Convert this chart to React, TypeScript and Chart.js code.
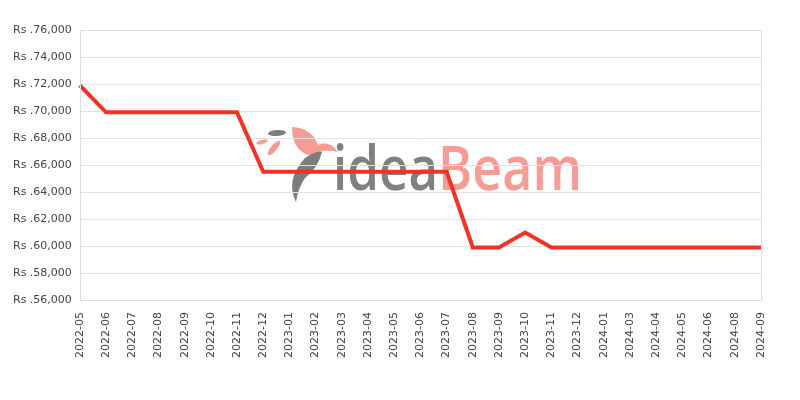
import React, { useEffect, useRef } from "react";
import { Chart, registerables } from "chart.js";

Chart.register(...registerables);

const labels = [
  "2022-05", "2022-06", "2022-07", "2022-08", "2022-09", "2022-10", "2022-11", "2022-12",
  "2023-01", "2023-02", "2023-03", "2023-04", "2023-05", "2023-06", "2023-07", "2023-08",
  "2023-09", "2023-10", "2023-11", "2023-12", "2024-01", "2024-03", "2024-04", "2024-05",
  "2024-06", "2024-08", "2024-09",
];

const prices = [
  71900, 69900, 69900, 69900, 69900, 69900, 69900, 65499,
  65499, 65499, 65499, 65499, 65499, 65499, 65499, 59900,
  59900, 61000, 59900, 59900, 59900, 59900, 59900, 59900,
  59900, 59900, 59900,
];

const yMin = 56000;
const yMax = 76000;
const yStep = 2000;

const bgPlugin = {
  id: "bgAndWatermark",
  beforeDraw(chart: any) {
    const ctx = chart.ctx as CanvasRenderingContext2D;
    ctx.save();
    ctx.fillStyle = "#ffffff";
    ctx.fillRect(0, 0, chart.width, chart.height);

    // watermark bird (approximation)
    ctx.fillStyle = "#f59d94";
    ctx.beginPath();
    ctx.moveTo(292, 127);
    ctx.quadraticCurveTo(312, 128, 318, 145);
    ctx.quadraticCurveTo(330, 140, 338, 152);
    ctx.quadraticCurveTo(322, 148, 312, 156);
    ctx.quadraticCurveTo(292, 152, 292, 127);
    ctx.fill();
    ctx.beginPath();
    ctx.ellipse(274, 148, 3, 9, 0.7, 0, Math.PI * 2);
    ctx.fill();
    ctx.beginPath();
    ctx.ellipse(262, 142, 2, 6, 1.3, 0, Math.PI * 2);
    ctx.fill();

    ctx.fillStyle = "#7d7d7d";
    ctx.beginPath();
    ctx.ellipse(277, 133, 3, 9, 1.5, 0, Math.PI * 2);
    ctx.fill();
    ctx.beginPath();
    ctx.moveTo(296, 202);
    ctx.quadraticCurveTo(285, 180, 305, 158);
    ctx.quadraticCurveTo(318, 150, 322, 152);
    ctx.quadraticCurveTo(318, 168, 305, 178);
    ctx.quadraticCurveTo(298, 188, 296, 202);
    ctx.fill();

    // watermark text
    ctx.textBaseline = "alphabetic";
    ctx.font = "600 62px 'Open Sans'";
    const drawFit = (txt: string, x0: number, x1: number, color: string) => {
      const w = ctx.measureText(txt).width;
      ctx.save();
      ctx.translate(x0, 190);
      ctx.scale((x1 - x0) / w, 1);
      ctx.fillStyle = color;
      ctx.fillText(txt, 0, 0);
      ctx.restore();
    };
    drawFit("idea", 333, 438, "#808080");
    drawFit("Beam", 438, 582, "#f59d94");
    ctx.restore();
  },
  afterDraw(chart: any) {
    const { ctx, chartArea } = chart;
    ctx.save();
    ctx.strokeStyle = "#dddddd";
    ctx.lineWidth = 1;
    ctx.strokeRect(
      Math.round(chartArea.left) + 0.5,
      Math.round(chartArea.top) + 0.5,
      Math.round(chartArea.right - chartArea.left),
      Math.round(chartArea.bottom - chartArea.top)
    );
    ctx.restore();
  },
};

export default function App() {
  const ref = useRef<HTMLCanvasElement | null>(null);
  useEffect(() => {
    if (!ref.current) return;
    const chart = new Chart(ref.current, {
      type: "line",
      data: {
        labels,
        datasets: [
          {
            data: prices,
            borderColor: "#ee3424",
            backgroundColor: "#ee3424",
            borderWidth: 4,
            pointRadius: 0,
            tension: 0,
            fill: false,
          },
        ],
      },
      options: {
        responsive: false,
        animation: false,
        layout: { padding: { top: 30, right: 39, bottom: 38, left: 5 } },
        plugins: {
          legend: { display: false },
          tooltip: { enabled: false },
        },
        scales: {
          x: {
            offset: false,
            grid: { display: false },
            border: { display: false },
            ticks: {
              autoSkip: false,
              maxRotation: 90,
              minRotation: 90,
              color: "#444444",
              font: { family: "'DejaVu Sans'", size: 11 },
              padding: 4,
            },
          },
          y: {
            min: yMin,
            max: yMax,
            grid: { color: "#e2e2e2", drawTicks: false },
            border: { display: false },
            ticks: {
              stepSize: yStep,
              color: "#444444",
              padding: 8,
              font: { family: "'DejaVu Sans'", size: 11 },
              callback: (v: any) => "Rs ." + Number(v).toLocaleString("en-US"),
            },
          },
        },
      },
      plugins: [bgPlugin],
    });
    return () => chart.destroy();
  }, []);
  return (
    <div style={{ position: "fixed", left: 0, top: 0, width: 800, height: 400 }}>
      <canvas ref={ref} width={800} height={400} style={{ width: 800, height: 400 }} />
    </div>
  );
}
